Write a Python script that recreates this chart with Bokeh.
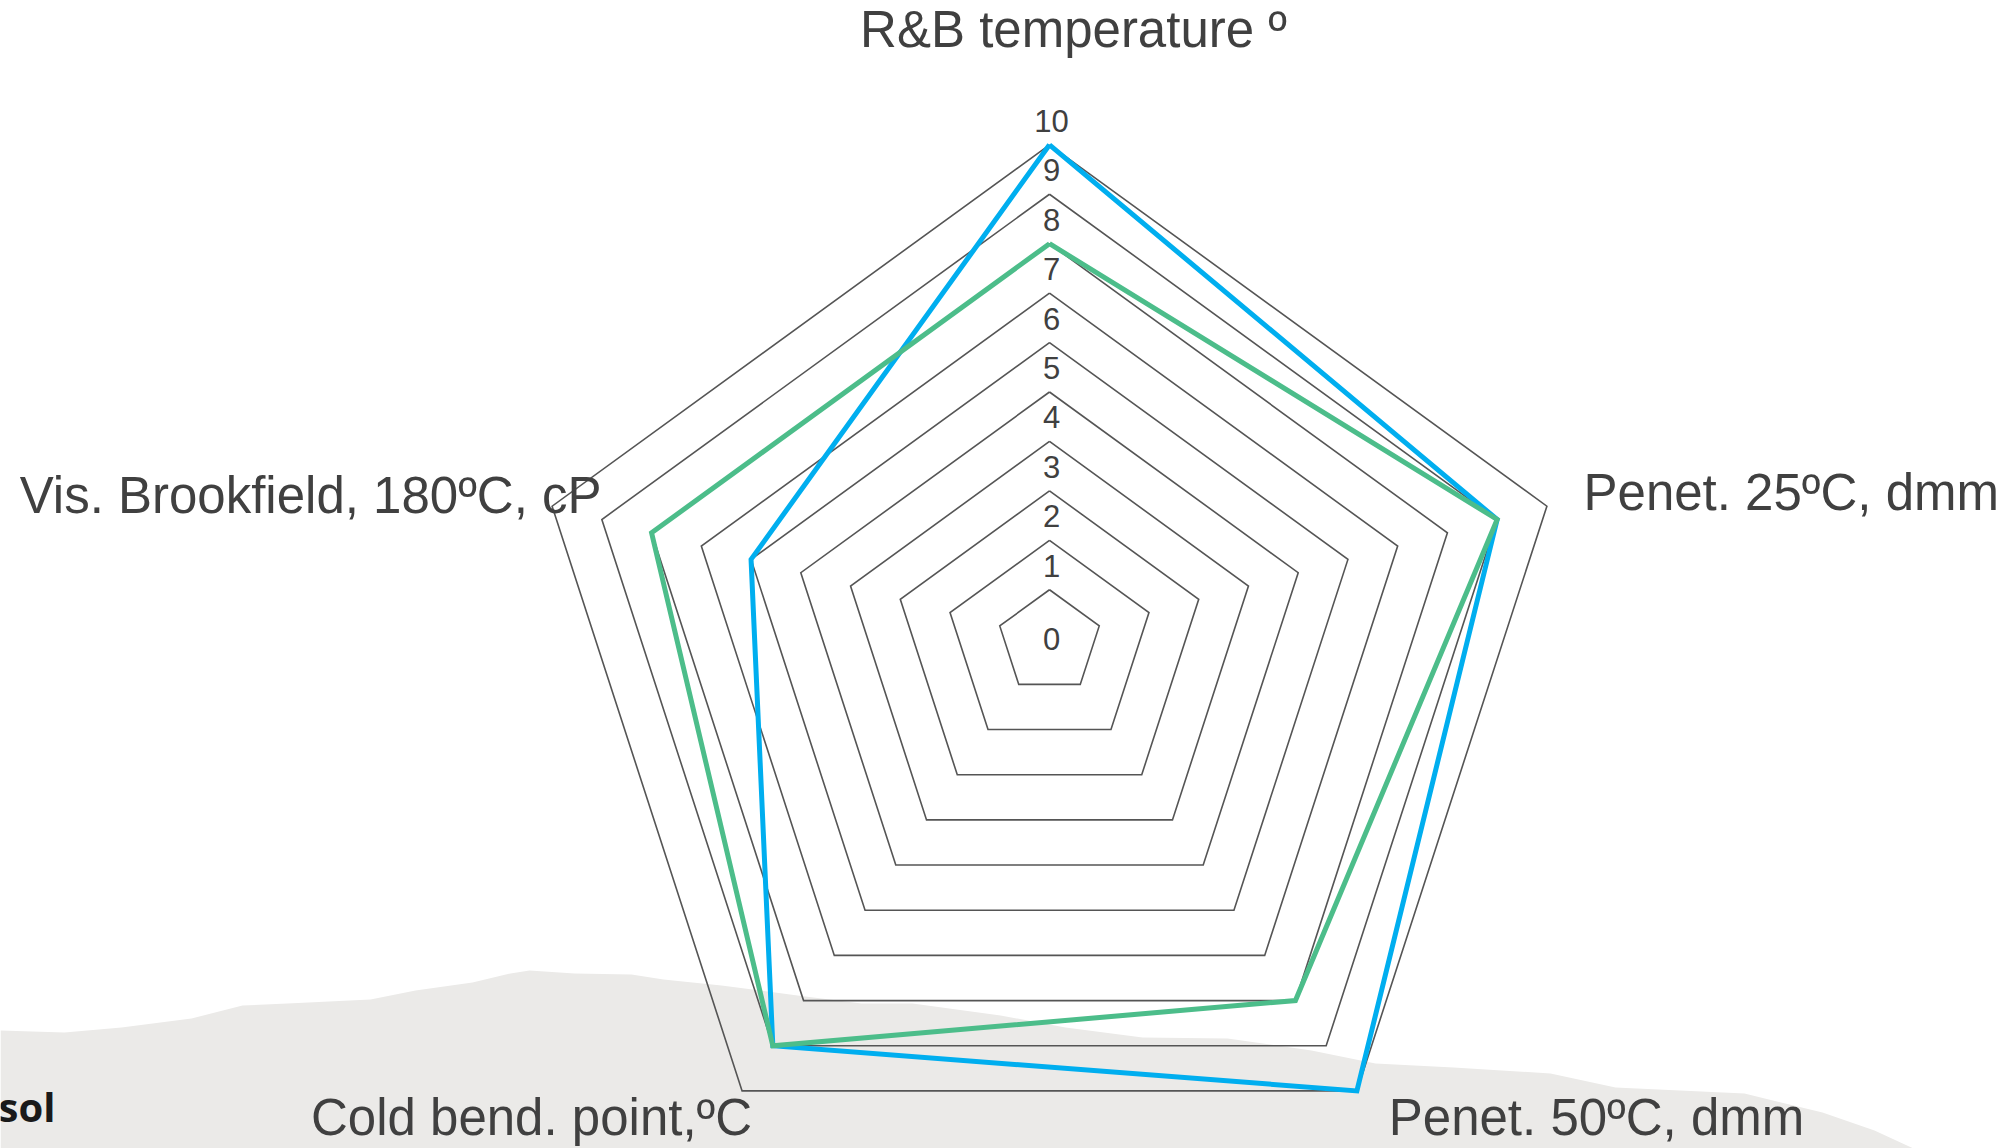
import math
from bokeh.plotting import figure
from bokeh.models import Range1d
from bokeh.embed import file_html
from bokeh.resources import INLINE
from bokeh.core.properties import value

# ---------------- data ----------------
axis_names = ["R&B temperature º", "Penet. 25ºC, dmm", "Penet. 50ºC, dmm",
              "Cold bend. point,ºC", "Vis. Brookfield, 180ºC, cP"]
levels = [0, 1, 2, 3, 4, 5, 6, 7, 8, 9, 10]
tick_labels = ["0", "1", "2", "3", "4", "5", "6", "7", "8", "9", "10"]
blue_values = [10, 9, 10, 9, 6]
green_values = [8, 9, 8, 9, 8]

# background mountain silhouette (decoration, screen pixels)
sil_x = [0, 64, 121, 191, 242, 287, 370, 415, 472, 510, 529, 574, 631, 663, 721, 797,
         861, 912, 1000, 1065, 1142, 1227, 1311, 1375, 1453, 1550, 1615, 1744, 1822,
         1874, 1913, 1920, 0]
sil_y = [1030, 1032, 1027, 1018, 1005, 1003, 999, 990, 982, 973, 970, 973, 974, 979,
         985, 995, 1003, 1003, 1015, 1027, 1037, 1038, 1050, 1063, 1067, 1073, 1087,
         1093, 1112, 1130, 1148, 1170, 1170]

# ---------------- layout ----------------
W, H = 2015, 1148
OFFSET = 0                  # screen offset of the plot canvas
PX, PY = 1049.0, 638.7      # screen position of the radar centre
U = 52.3                    # pixels per level
SHIFT = 0.0547              # slight downward drift of ring centres per level
ANGLES = [90, 18, -54, -126, 162]

TEXT = "#404040"
GRID = "#555555"
BLUE = "#00AEEF"
GREEN = "#4CBD8A"
FONT = "Liberation Sans"


def sx(X):
    return (X - PX) / U


def sy(Y):
    return (PY - Y) / U


def pt(i, v):
    a = math.radians(ANGLES[i])
    return v * math.cos(a), v * (math.sin(a) - SHIFT)


p = figure(width=W, height=H,
           x_range=Range1d(sx(OFFSET), sx(OFFSET + W)),
           y_range=Range1d(sy(OFFSET + H), sy(OFFSET)),
           output_backend="svg", toolbar_location=None, min_border=0)
p.axis.visible = False
p.grid.visible = False
p.outline_line_color = None
p.background_fill_color = "white"
p.border_fill_color = "white"

# background silhouette
p.patch([sx(x) for x in sil_x], [sy(y) for y in sil_y],
        fill_color="#EBEAE8", line_color=None)
p.text(x=[sx(-2)], y=[sy(1106)], text=["sol"], text_font=value("Open Sans"),
       text_font_size="40px", text_font_style="bold", text_color="#1a1a1a",
       text_align="left", text_baseline="alphabetic")

# grid rings
rx, ry = [], []
for L in levels[1:]:
    xs, ys = [], []
    for i in range(5):
        x, y = pt(i, L)
        xs.append(x)
        ys.append(y)
    xs.append(xs[0])
    ys.append(ys[0])
    rx.append(xs)
    ry.append(ys)
p.multi_line(rx, ry, line_color=GRID, line_width=1.6, line_join="miter")

# tick labels
tx, ty = [], []
for L in levels:
    x, y = pt(0, L)
    tx.append(x + 2 / U)
    ty.append(y + (24 / U if L > 0 else 0))
p.text(x=tx, y=ty, text=tick_labels, text_font=value(FONT), text_font_size="31px",
       text_color=TEXT, text_align="center", text_baseline="middle")


# data series
def series(vals):
    xs, ys = [], []
    for i, v in enumerate(vals):
        x, y = pt(i, v)
        xs.append(x)
        ys.append(y)
    return xs + [xs[0]], ys + [ys[0]]


bx, by = series(blue_values)
gx, gy = series(green_values)
p.line(bx, by, line_color=BLUE, line_width=5, line_join="miter")
p.line(gx, gy, line_color=GREEN, line_width=5, line_join="miter")

# axis labels (screen-measured anchor positions)
lab_x = [1073, 1583, 1596, 531, 601]
lab_y = [29, 492, 1117, 1117, 495]
lab_align = ["center", "left", "center", "center", "right"]
for name, X, Y, al in zip(axis_names, lab_x, lab_y, lab_align):
    p.text(x=[sx(X)], y=[sy(Y)], text=[name], text_font=value(FONT),
           text_font_size="51px", text_color=TEXT, text_align=al,
           text_baseline="middle")

open("out.html", "w").write(file_html(p, INLINE))
